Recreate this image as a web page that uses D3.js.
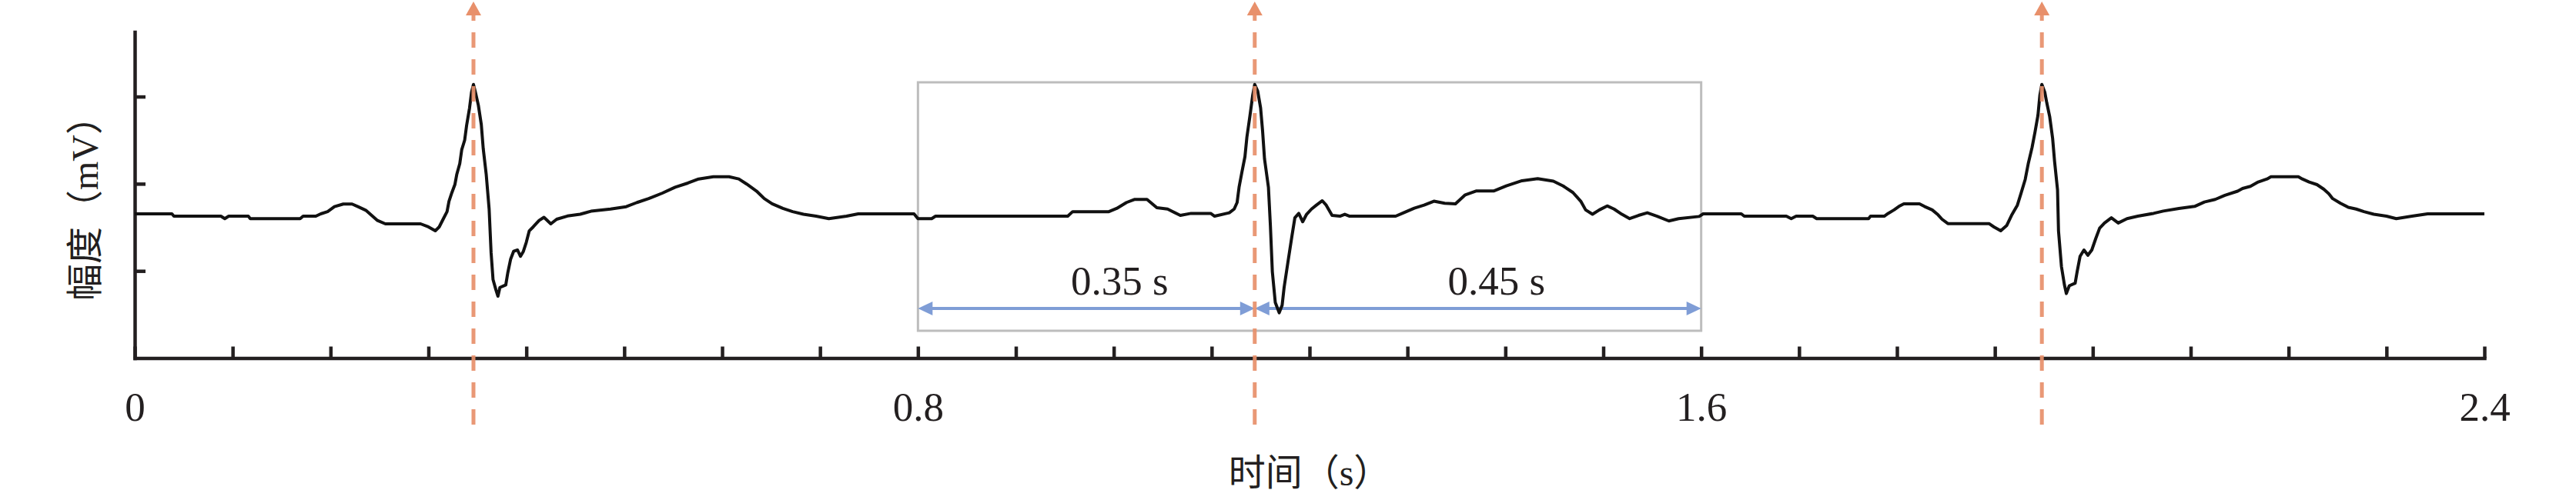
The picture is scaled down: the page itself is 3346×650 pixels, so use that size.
<!DOCTYPE html>
<html>
<head>
<meta charset="utf-8">
<script src="https://cdn.jsdelivr.net/npm/d3@7"></script>
<style>
  html, body { margin: 0; padding: 0; background: #ffffff; }
  svg { display: block; }
</style>
</head>
<body>
<svg id="chart" width="3346" height="650"></svg>
<script>
// ---------------- DATA ----------------
const timeS = [
  0.000,0.038,0.040,0.088,0.092,0.096,0.116,0.118,0.169,0.172,0.185,0.190,0.197,0.204,0.213,0.222,0.228,0.236,0.242,0.248,
  0.256,0.292,0.300,0.307,0.311,0.315,0.319,0.321,0.324,0.327,0.329,0.332,0.334,0.337,0.339,0.342,0.344,0.346,0.348,0.351,
  0.354,0.356,0.359,0.362,0.364,0.366,0.369,0.371,0.373,0.379,0.381,0.384,0.387,0.391,0.394,0.397,0.400,0.403,0.407,0.413,
  0.418,0.425,0.431,0.442,0.455,0.466,0.486,0.502,0.513,0.525,0.539,0.552,0.565,0.576,0.591,0.607,0.617,0.625,0.635,0.643,
  0.651,0.662,0.672,0.683,0.696,0.709,0.727,0.739,0.796,0.800,0.814,0.818,0.953,0.958,0.995,1.003,1.013,1.021,1.034,1.044,
  1.055,1.068,1.079,1.099,1.103,1.118,1.123,1.126,1.128,1.131,1.134,1.136,1.139,1.142,1.144,1.147,1.150,1.152,1.154,1.158,
  1.160,1.162,1.165,1.169,1.172,1.174,1.178,1.182,1.185,1.189,1.193,1.197,1.202,1.207,1.213,1.217,1.223,1.231,1.236,1.241,
  1.288,1.296,1.307,1.317,1.327,1.338,1.349,1.359,1.370,1.388,1.401,1.417,1.433,1.449,1.459,1.469,1.477,1.482,1.489,1.496,
  1.504,1.511,1.519,1.527,1.536,1.545,1.555,1.567,1.577,1.598,1.602,1.641,1.644,1.687,1.692,1.697,1.714,1.718,1.771,1.773,
  1.787,1.791,1.797,1.802,1.807,1.823,1.828,1.836,1.842,1.846,1.852,1.894,1.899,1.906,1.912,1.917,1.923,1.927,1.931,1.934,
  1.938,1.941,1.944,1.946,1.948,1.951,1.953,1.956,1.959,1.961,1.964,1.965,1.968,1.971,1.973,1.976,1.982,1.984,1.987,1.991,
  1.995,1.999,2.003,2.007,2.012,2.019,2.026,2.035,2.046,2.062,2.072,2.088,2.104,2.114,2.125,2.135,2.148,2.153,2.161,2.169,
  2.178,2.182,2.210,2.214,2.221,2.229,2.236,2.241,2.245,2.253,2.261,2.269,2.277,2.287,2.300,2.310,2.326,2.342,2.400
];
const amplitudeMV = [
  1.655,1.655,1.628,1.628,1.600,1.628,1.628,1.600,1.600,1.628,1.628,1.655,1.680,1.737,1.767,1.767,1.737,1.696,1.637,1.578,
  1.540,1.540,1.505,1.460,1.505,1.593,1.680,1.800,1.900,1.990,2.110,2.230,2.390,2.500,2.670,2.870,3.050,3.140,3.050,2.900,
  2.680,2.400,2.110,1.710,1.210,0.900,0.780,0.710,0.810,0.840,0.975,1.137,1.225,1.240,1.167,1.225,1.330,1.460,1.505,1.578,
  1.615,1.540,1.593,1.630,1.650,1.685,1.710,1.737,1.785,1.830,1.893,1.960,2.008,2.055,2.080,2.080,2.055,1.997,1.917,1.830,
  1.770,1.717,1.680,1.650,1.628,1.600,1.628,1.655,1.655,1.600,1.600,1.628,1.628,1.680,1.680,1.717,1.785,1.820,1.820,1.725,
  1.710,1.637,1.660,1.660,1.628,1.667,1.710,1.785,1.960,2.140,2.310,2.535,2.770,3.020,3.140,3.065,2.870,2.610,2.285,1.960,
  1.520,0.990,0.637,0.520,0.607,0.810,1.108,1.400,1.610,1.660,1.564,1.650,1.710,1.755,1.805,1.755,1.637,1.628,1.650,1.628,
  1.628,1.667,1.720,1.755,1.800,1.776,1.770,1.873,1.917,1.917,1.975,2.035,2.058,2.030,1.975,1.900,1.800,1.700,1.650,1.700,
  1.746,1.710,1.650,1.600,1.637,1.667,1.628,1.573,1.600,1.625,1.655,1.655,1.628,1.628,1.600,1.628,1.628,1.600,1.600,1.628,
  1.628,1.660,1.700,1.740,1.770,1.770,1.740,1.700,1.643,1.593,1.543,1.543,1.505,1.460,1.520,1.637,1.755,1.900,2.050,2.226,
  2.417,2.593,2.785,3.020,3.140,3.050,2.930,2.770,2.520,2.255,1.930,1.460,1.050,0.843,0.740,0.830,0.860,0.990,1.167,1.240,
  1.180,1.240,1.370,1.490,1.550,1.610,1.550,1.600,1.628,1.660,1.687,1.717,1.740,1.790,1.820,1.867,1.915,1.946,1.970,2.020,
  2.055,2.080,2.080,2.055,2.020,1.990,1.937,1.887,1.830,1.776,1.730,1.710,1.680,1.650,1.628,1.600,1.628,1.655,1.655
];
const rPeakTimes = [0.346, 1.144, 1.948];
const xTickValues = [0,0.1,0.2,0.3,0.4,0.5,0.6,0.7,0.8,0.9,1.0,1.1,1.2,1.3,1.4,1.5,1.6,1.7,1.8,1.9,2.0,2.1,2.2,2.3,2.4];
const xLabelValues = [0, 0.8, 1.6, 2.4];
const xTickLabels = ["0", "0.8", "1.6", "2.4"];
const yTickValues = [1, 2, 3];
const windowTimes = [0.8, 1.6];
const intervalStarts = [0.8, 1.144];
const intervalEnds = [1.144, 1.6];
const intervalLabels = ["0.35 s", "0.45 s"];
const intervalLabelTimes = [1.006, 1.391];
const xAxisTitle = "时间（s）";
const yAxisTitle = "幅度（mV）";

// ---------------- LAYOUT ----------------
const plot = { left: 175, right: 3227, top: 41.5, bottom: 465.5 };
const axisColor = "#231f20";
const orange = "#e8906b";
const blue = "#7f9dd6";
const grey = "#bdbdbd";
const serif = "'Liberation Serif', 'Times New Roman', 'Noto Sans CJK SC', serif";

const svg = d3.select("#chart");
const x = d3.scaleLinear().domain([0, 2.4]).range([plot.left, plot.right]);
const y = d3.scaleLinear().domain([0, 3.742]).range([plot.bottom, plot.top]);

// Grey window box
const boxTop = 107, boxBottom = 430;
svg.append("rect")
  .attr("x", x(windowTimes[0])).attr("y", boxTop)
  .attr("width", x(windowTimes[1]) - x(windowTimes[0]))
  .attr("height", boxBottom - boxTop)
  .attr("fill", "none").attr("stroke", grey).attr("stroke-width", 3);

// Blue interval arrows
const arrowY = 401, headL = 19, headH = 9;
intervalStarts.forEach((s, i) => {
  const x1 = x(s), x2 = x(intervalEnds[i]);
  svg.append("line")
    .attr("x1", x1 + 10).attr("x2", x2 - 10)
    .attr("y1", arrowY).attr("y2", arrowY)
    .attr("stroke", blue).attr("stroke-width", 4);
  svg.append("path")
    .attr("d", `M${x1},${arrowY} L${x1 + headL},${arrowY - headH} L${x1 + headL},${arrowY + headH} Z`)
    .attr("fill", blue);
  svg.append("path")
    .attr("d", `M${x2},${arrowY} L${x2 - headL},${arrowY - headH} L${x2 - headL},${arrowY + headH} Z`)
    .attr("fill", blue);
  svg.append("text")
    .attr("x", x(intervalLabelTimes[i])).attr("y", 383)
    .attr("text-anchor", "middle")
    .attr("font-family", serif).attr("font-size", 53)
    .attr("fill", axisColor)
    .text(intervalLabels[i]);
});

// Axes
const gx = svg.append("g")
  .attr("transform", `translate(0,${y(0)})`)
  .call(d3.axisBottom(x).tickValues(xTickValues).tickSizeInner(-15).tickSizeOuter(0).tickFormat(""));
const gy = svg.append("g")
  .attr("transform", `translate(${x(0)},0)`)
  .call(d3.axisLeft(y).tickValues(yTickValues).tickSizeInner(-14).tickSizeOuter(0).tickFormat(""));
[gx, gy].forEach(g => {
  g.select(".domain").attr("stroke", axisColor).attr("stroke-width", 4.5).attr("stroke-linecap", "square");
  g.selectAll(".tick line").attr("stroke", axisColor).attr("stroke-width", 4.5);
});

const gl = svg.append("g")
  .attr("transform", `translate(0,${y(0)})`)
  .call(d3.axisBottom(x).tickValues(xLabelValues).tickSize(0).tickPadding(44)
    .tickFormat((d, i) => xTickLabels[i]));
gl.select(".domain").remove();
gl.attr("font-family", serif).attr("font-size", 53);
gl.selectAll("text").attr("fill", axisColor);

// ECG trace
const ecg = timeS.map((t, i) => ({ t, v: amplitudeMV[i] }));
svg.append("path")
  .datum(ecg)
  .attr("d", d3.line().x(d => x(d.t)).y(d => y(d.v)))
  .attr("fill", "none")
  .attr("stroke", "#111111")
  .attr("stroke-width", 4)
  .attr("stroke-linejoin", "round");

// Orange R-peak dashed lines with arrowheads
const dashBottom = 552, dashTop = 20, tipY = 2;
rPeakTimes.forEach(t => {
  const xp = x(t);
  svg.append("line")
    .attr("x1", xp).attr("x2", xp)
    .attr("y1", dashBottom).attr("y2", dashTop)
    .attr("stroke", orange).attr("stroke-width", 5)
    .attr("stroke-dasharray", "20 15")
    .attr("opacity", 0.92);
  svg.append("path")
    .attr("d", `M${xp},${tipY} L${xp - 10},${dashTop} L${xp + 10},${dashTop} Z`)
    .attr("fill", orange);
});

// Axis titles
svg.append("text")
  .attr("x", (plot.left + plot.right) / 2).attr("y", 614)
  .attr("text-anchor", "middle").attr("dominant-baseline", "central")
  .attr("font-family", serif).attr("font-size", 48)
  .attr("fill", axisColor)
  .text(xAxisTitle);
svg.append("text")
  .attr("transform", "translate(110,259) rotate(-90)")
  .attr("text-anchor", "middle").attr("dominant-baseline", "central")
  .attr("font-family", serif).attr("font-size", 48)
  .attr("fill", axisColor)
  .text(yAxisTitle);
</script>
</body>
</html>
